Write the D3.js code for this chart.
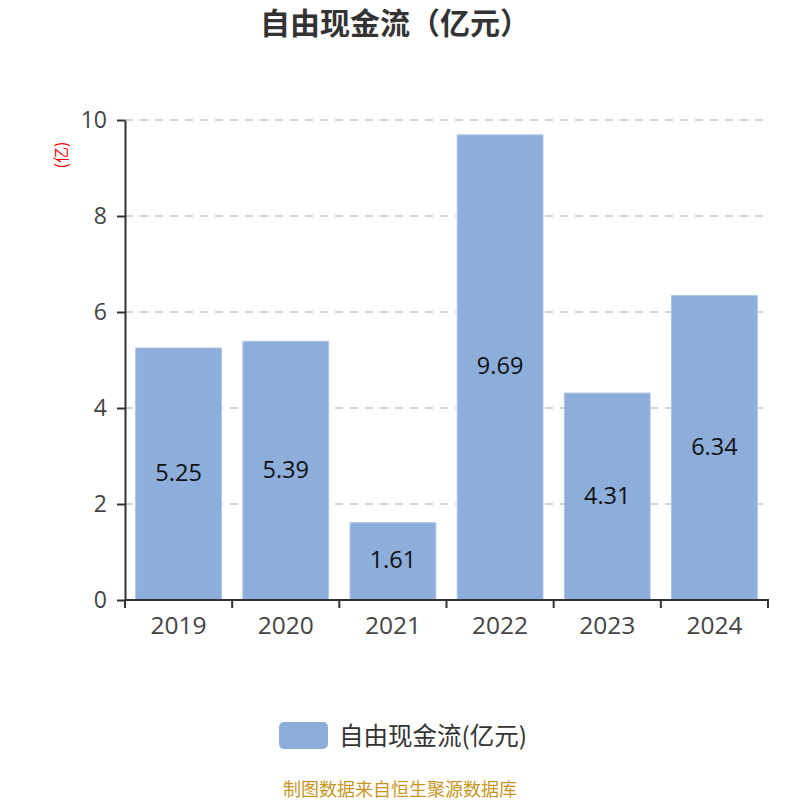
<!DOCTYPE html>
<html>
<head>
<meta charset="utf-8">
<script src="https://cdn.jsdelivr.net/npm/d3@7"></script>
<style>
  body { margin: 0; background: #fff; }
  svg { font-family: "Open Sans", "Noto Sans CJK SC", sans-serif; }
</style>
</head>
<body>
<svg id="chart" width="800" height="800"></svg>
<script>
// DATA //
const years = ['2019', '2020', '2021', '2022', '2023', '2024']
const cashFlow = [5.25, 5.39, 1.61, 9.69, 4.31, 6.34]
const yTicks = [0, 2, 4, 6, 8, 10]

const title = '自由现金流（亿元）'
const seriesName = '自由现金流(亿元)'
const unitLabel = '(亿)'
const source = '制图数据来自恒生聚源数据库'

// DRAW CHART //
const svg = d3.select('#chart')
const margin = {top: 120, right: 32, bottom: 200, left: 125}
const width = 800 - margin.left - margin.right
const height = 800 - margin.top - margin.bottom
const cjk = '"Noto Sans CJK SC", sans-serif'

svg.append('text')
  .attr('x', 395).attr('y', 34)
  .attr('text-anchor', 'middle')
  .attr('font-family', cjk)
  .attr('font-size', 30).attr('font-weight', 'bold')
  .attr('fill', '#333')
  .text(title)

const g = svg.append('g')
  .attr('transform', `translate(${margin.left},${margin.top})`)

const x = d3.scaleBand().domain(years).range([0, width]).paddingInner(0.2).paddingOuter(0.1)
const y = d3.scaleLinear().domain([0, 10]).range([height, 0])

// grid lines
g.selectAll('.grid')
  .data(yTicks.filter(d => d > 0))
  .enter()
  .append('line')
  .attr('x1', 0).attr('x2', width)
  .attr('y1', d => y(d)).attr('y2', d => y(d))
  .attr('stroke', '#c8c8c8')
  .attr('stroke-width', 1.5)
  .attr('stroke-dasharray', '8,7')

// bars
g.selectAll('.bar')
  .data(years)
  .enter()
  .append('rect')
  .attr('x', d => x(d))
  .attr('y', (d, i) => y(cashFlow[i]))
  .attr('width', x.bandwidth())
  .attr('height', (d, i) => height - y(cashFlow[i]))
  .attr('fill', '#8daddb')
  .attr('stroke', '#a9c2e6')
  .attr('stroke-width', 1)

// value labels
g.selectAll('.label')
  .data(years)
  .enter()
  .append('text')
  .attr('x', d => x(d) + x.bandwidth() / 2)
  .attr('y', (d, i) => (y(cashFlow[i]) + height) / 2)
  .attr('dy', '0.3em')
  .attr('text-anchor', 'middle')
  .attr('font-size', 23.5)
  .attr('fill', '#111')
  .text((d, i) => cashFlow[i].toFixed(2))

// x axis with ticks at band edges
const xAxis = g.append('g')
  .attr('transform', `translate(0,${height})`)
xAxis.append('line')
  .attr('x1', 0).attr('x2', width + 1)
  .attr('stroke', '#333').attr('stroke-width', 2)
const edges = years.map(d => x(d) - x.step() * x.paddingInner() / 2).concat([width])
xAxis.selectAll('.xtick')
  .data(edges)
  .enter()
  .append('line')
  .attr('x1', d => d).attr('x2', d => d)
  .attr('y1', 0).attr('y2', 8)
  .attr('stroke', '#333').attr('stroke-width', 2)
xAxis.selectAll('.xlabel')
  .data(years)
  .enter()
  .append('text')
  .attr('x', d => x(d) + x.bandwidth() / 2)
  .attr('y', 34)
  .attr('text-anchor', 'middle')
  .attr('font-size', 24.5)
  .attr('fill', '#444')
  .text(d => d)

// y axis
const yAxis = g.append('g')
  .call(d3.axisLeft(y).tickValues(yTicks).tickSize(8).tickSizeOuter(0).tickPadding(10))
yAxis.select('.domain').attr('stroke', '#333').attr('stroke-width', 2)
yAxis.selectAll('.tick line').attr('stroke', '#333').attr('stroke-width', 2)
yAxis.selectAll('.tick text')
  .attr('font-size', 23)
  .attr('font-family', '"Open Sans", sans-serif')
  .attr('fill', '#444')

// unit label
svg.append('text')
  .attr('transform', 'translate(67,155) rotate(-90)')
  .attr('text-anchor', 'middle')
  .attr('font-family', cjk)
  .attr('font-size', 16)
  .attr('fill', 'red')
  .text(unitLabel)

// legend
svg.append('rect')
  .attr('x', 279).attr('y', 722)
  .attr('width', 49).attr('height', 27)
  .attr('rx', 5)
  .attr('fill', '#8daddb')
svg.append('text')
  .attr('x', 339).attr('y', 736)
  .attr('dy', '0.35em')
  .attr('font-family', cjk)
  .attr('font-size', 24.5)
  .attr('fill', '#333')
  .text(seriesName)

// source footer
svg.append('text')
  .attr('x', 400).attr('y', 796)
  .attr('text-anchor', 'middle')
  .attr('font-family', cjk)
  .attr('font-size', 18)
  .attr('fill', '#c8961e')
  .text(source)
</script>
</body>
</html>
